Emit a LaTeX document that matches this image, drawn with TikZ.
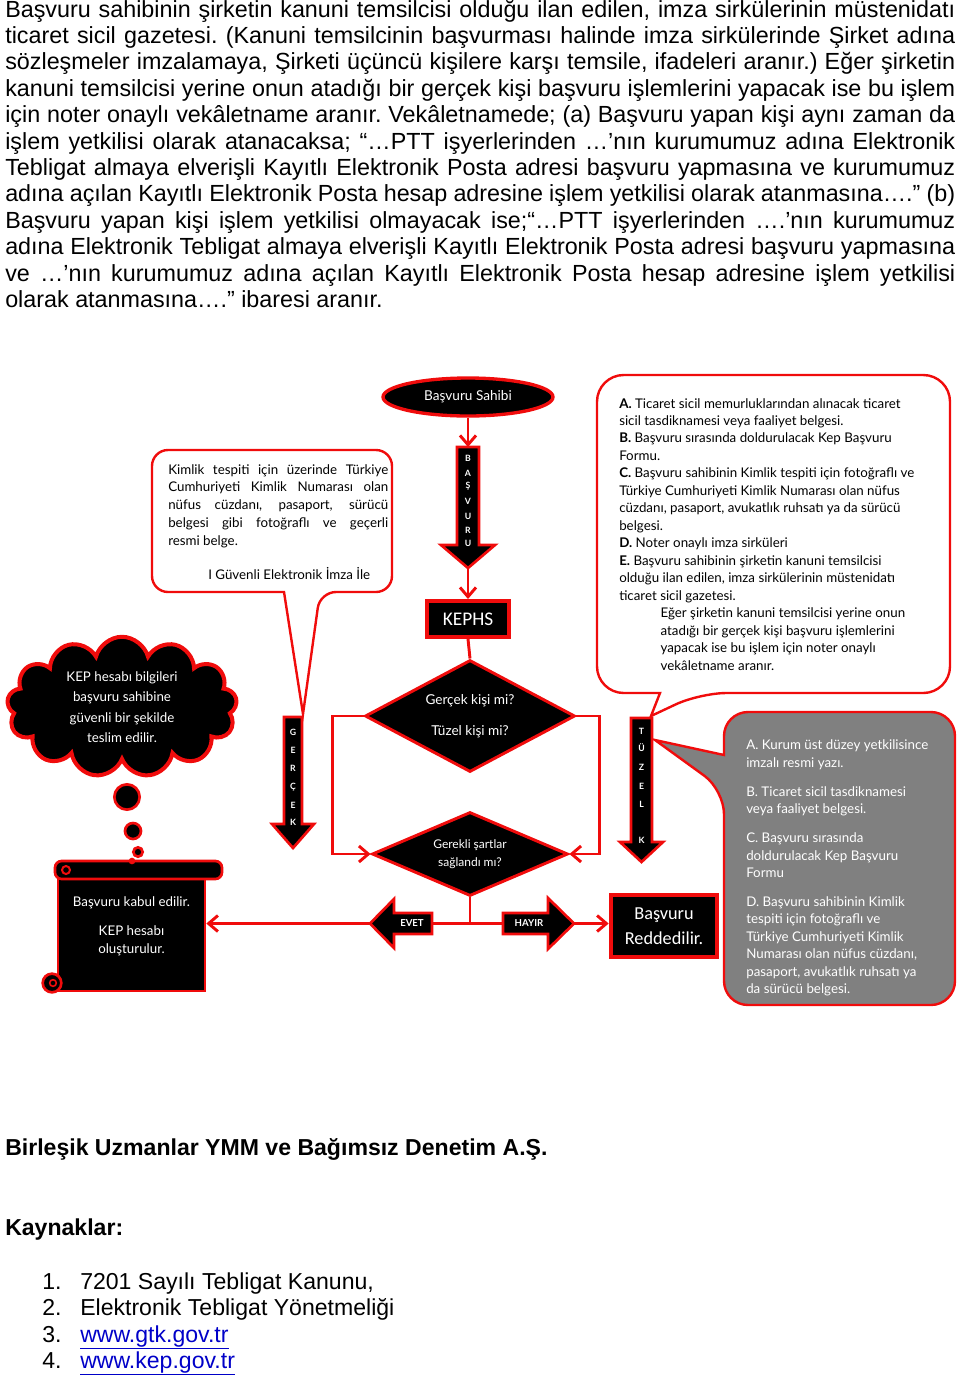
\documentclass[tikz,border=0pt]{standalone}
\usepackage{fontspec}
\setmainfont{Liberation Sans}
\newfontfamily\narrowfont{Liberation Sans}
\newfontfamily\comicfont{Lato}
\newfontfamily\calfont{Carlito}
\usetikzlibrary{arrows.meta,shapes.geometric,shapes.symbols}
\definecolor{kepred}{RGB}{240,12,12}
\definecolor{calloutgray}{RGB}{128,128,128}
\definecolor{linkblue}{RGB}{0,0,200}
\newcommand{\px}{0.75pt}
\tikzset{
  redline/.style={draw=kepred, line width=2.2pt},
  link/.style={redline, -{Straight Barb[length=7pt,width=12pt]}},
  darkbox/.style={fill=black, draw=kepred, text=white, inner sep=0pt},
  blockarrow/.style={fill=black, draw=kepred, line width=2pt, line join=miter},
  arrowletter/.style={text=white, inner sep=0pt, font=\comicfont\bfseries\fontsize{6.5pt}{7pt}\selectfont},
  callout/.style={draw=kepred, line width=1.8pt, fill=white},
  bubble/.style={fill=black, draw=kepred, line width=2pt}
}

\begin{document}
\begin{tikzpicture}[x=0.75pt, y=-0.75pt]
  \useasboundingbox (0,0) rectangle (960,1379);

  % text above the chart
  \node[anchor=base west, inner sep=0pt] (intro) at (5,17) {\parbox[t]{712.5pt}{\narrowfont\fontsize{17.5pt}{19.8pt}\selectfont\frenchspacing\tolerance=10000\hyphenpenalty=10000
    Başvuru sahibinin şirketin kanuni temsilcisi olduğu ilan edilen, imza sirkülerinin müstenidatı\linebreak
    ticaret sicil gazetesi. (Kanuni temsilcinin başvurması halinde imza sirkülerinde Şirket adına\linebreak
    sözleşmeler imzalamaya, Şirketi üçüncü kişilere karşı temsile, ifadeleri aranır.) Eğer şirketin\linebreak
    kanuni temsilcisi yerine onun atadığı bir gerçek kişi başvuru işlemlerini yapacak ise bu işlem\linebreak
    için noter onaylı vekâletname aranır. Vekâletnamede; (a) Başvuru yapan kişi aynı zaman da\linebreak
    işlem yetkilisi olarak atanacaksa; “…PTT işyerlerinden …’nın kurumumuz adına Elektronik\linebreak
    Tebligat almaya elverişli Kayıtlı Elektronik Posta adresi başvuru yapmasına ve kurumumuz\linebreak
    adına açılan Kayıtlı Elektronik Posta hesap adresine işlem yetkilisi olarak atanmasına….” (b)\linebreak
    Başvuru yapan kişi işlem yetkilisi olmayacak ise;“…PTT işyerlerinden ….’nın kurumumuz\linebreak
    adına Elektronik Tebligat almaya elverişli Kayıtlı Elektronik Posta adresi başvuru yapmasına\linebreak
    ve …’nın kurumumuz adına açılan Kayıtlı Elektronik Posta hesap adresine işlem yetkilisi\linebreak
    olarak atanmasına….” ibaresi aranır.}};

  % callouts
  \filldraw[callout] (152,521) [rounded corners=12pt] -- (152,450) -- (392,450) -- (392,592) -- (320,592)
    [sharp corners] -- (303,714) -- (284,592) [rounded corners=12pt] -- (152,592) -- cycle;
  \filldraw[callout] (597,534) [rounded corners=20pt] -- (597,375) -- (950,375) -- (950,693) -- (700,693)
    [sharp corners] -- (651,716) -- (660,693) [rounded corners=20pt] -- (597,693) -- cycle;
  \filldraw[callout, fill=calloutgray] (840,712) [rounded corners=18pt] -- (955,712) -- (955,1005) -- (724,1005) -- (724,790)
    [sharp corners] -- (655,740) -- (724,755) [rounded corners=18pt] -- (724,712) -- cycle;

  \node[anchor=base west, inner sep=0pt] (kimliktext) at (168,474) {\parbox[t]{165pt}{\comicfont\fontsize{10pt}{13.35pt}\selectfont
    Kimlik tespiti için üzerinde Türkiye\linebreak
    Cumhuriyeti Kimlik Numarası olan\linebreak
    nüfus cüzdanı, pasaport, sürücü\linebreak
    belgesi gibi fotoğraflı ve geçerli\linebreak
    resmi belge.\par\vspace{12pt}
    \hspace*{30pt}I Güvenli Elektronik İmza İle}};

  \node[anchor=base west, inner sep=0pt] (reqtext) at (619,408) {\parbox[t]{250pt}{\raggedright\comicfont\fontsize{10pt}{13.1pt}\selectfont
    \textbf{A.} Ticaret sicil memurluklarından alınacak ticaret\\
    sicil tasdiknamesi veya faaliyet belgesi.\\
    \textbf{B.} Başvuru sırasında doldurulacak Kep Başvuru\\
    Formu.\\
    \textbf{C.} Başvuru sahibinin Kimlik tespiti için fotoğraflı ve\\
    Türkiye Cumhuriyeti Kimlik Numarası olan nüfus\\
    cüzdanı, pasaport, avukatlık ruhsatı ya da sürücü\\
    belgesi.\\
    \textbf{D.} Noter onaylı imza sirküleri\\
    \textbf{E.} Başvuru sahibinin şirketin kanuni temsilcisi\\
    olduğu ilan edilen, imza sirkülerinin müstenidatı\\
    ticaret sicil gazetesi.\\
    \hspace*{31pt}Eğer şirketin kanuni temsilcisi yerine onun\\
    \hspace*{31pt}atadığı bir gerçek kişi başvuru işlemlerini\\
    \hspace*{31pt}yapacak ise bu işlem için noter onaylı\\
    \hspace*{31pt}vekâletname aranır.}};

  \node[anchor=base west, inner sep=0pt] (graytext) at (746,740) {\parbox[t]{170pt}{\raggedright\color{white}\comicfont\fontsize{10pt}{13.1pt}\selectfont
    A. Kurum üst düzey yetkilisince\\
    imzalı resmi yazı.\\[8.6pt]
    B. Ticaret sicil tasdiknamesi\\
    veya faaliyet belgesi.\\[8.6pt]
    C. Başvuru sırasında\\
    doldurulacak Kep Başvuru\\
    Formu\\[8.6pt]
    D. Başvuru sahibinin Kimlik\\
    tespiti için fotoğraflı ve\\
    Türkiye Cumhuriyeti Kimlik\\
    Numarası olan nüfus cüzdanı,\\
    pasaport, avukatlık ruhsatı ya\\
    da sürücü belgesi.}};

  % main flow
  \node[ellipse, darkbox, line width=2.5pt, minimum width=170*\px, minimum height=38*\px,
    font=\comicfont\fontsize{10.2pt}{11pt}\selectfont] (applicant) at (468,397) {Başvuru Sahibi};

  \draw[blockarrow] (457,447) -- (479,447) -- (479,545) -- (495,545) -- (468,568) -- (441,545) -- (457,545) -- cycle;
  \coordinate (bvtop) at (468,447);
  \coordinate (bvtip) at (468,568);
  \foreach \ch/\yy [count=\i] in {B/458,A/473,Ş/486,V/501,U/516,R/530,U/543}
    \node[arrowletter] (bv\i) at (468,\yy) {\ch};

  \node[darkbox, line width=3pt, minimum width=82*\px, minimum height=36*\px,
    font=\calfont\fontsize{14.5pt}{16pt}\selectfont] (kephs) at (468,619) {KEPHS};

  \node[diamond, darkbox, shape aspect=1.9, line width=2.2pt, minimum width=210*\px, minimum height=112*\px, align=center,
    font=\comicfont\fontsize{10.2pt}{11pt}\selectfont] (q1) at (470,716) {Gerçek kişi mi?\\[12pt]Tüzel kişi mi?};
  \node[diamond, darkbox, shape aspect=2.3, line width=2.2pt, minimum width=196*\px, minimum height=84*\px, align=center,
    font=\comicfont\fontsize{9pt}{13.5pt}\selectfont] (q2) at (470,854) {Gerekli şartlar\\sağlandı mı?};

  \draw[link] (applicant.south) -- (bvtop);
  \draw[link] (bvtip) -- (kephs.north);
  \draw[redline] (kephs.south) -- (q1.north);
  \draw[link] (q1.west) -- ++(-31,0) |- (q2.west);
  \draw[link] (q1.east) -- ++(23,0) |- (q2.east);

  % side arrows
  \draw[blockarrow] (284,717) -- (302,717) -- (302,824) -- (314,824) -- (293,848) -- (272,824) -- (284,824) -- cycle;
  \foreach \ch/\yy [count=\i] in {G/732,E/750,R/768,Ç/787,E/805,K/822}
    \node[arrowletter] (gk\i) at (293,\yy) {\ch};
  \draw[blockarrow] (631,718) -- (652,718) -- (652,842) -- (663,842) -- (641.5,862) -- (620,842) -- (631,842) -- cycle;
  \foreach \ch/\yy [count=\i] in {T/731,Ü/748,Z/767,E/786,L/804,K/840}
    \node[arrowletter] (tz\i) at (641.5,\yy) {\ch};

  % yes / no
  \draw[blockarrow] (432,913) -- (432,934) -- (394,934) -- (394,948) -- (370,923.5) -- (394,899) -- (394,913) -- cycle;
  \node[arrowletter, font=\comicfont\bfseries\fontsize{7.2pt}{8pt}\selectfont] (evet) at (412,923.5) {EVET};
  \draw[blockarrow] (503,913) -- (548,913) -- (548,898) -- (574,923.5) -- (548,949) -- (548,934) -- (503,934) -- cycle;
  \node[arrowletter, font=\comicfont\bfseries\fontsize{7.2pt}{8pt}\selectfont] (hayir) at (529,923.5) {HAYIR};
  \coordinate (fork) at (470,923.5);
  \coordinate (evetR) at (432,923.5);
  \coordinate (evetTip) at (370,923.5);
  \coordinate (hayirL) at (503,923.5);
  \coordinate (hayirTip) at (574,923.5);
  \draw[redline] (q2.south) -- (fork);
  \draw[redline] (evetR) -- (hayirL);

  \node[darkbox, line width=3.5pt, minimum width=106*\px, minimum height=62*\px, align=center,
    font=\calfont\fontsize{13.7pt}{18.5pt}\selectfont] (reject) at (664,926) {Başvuru\\Reddedilir.};
  \draw[link] (hayirTip) -- (hayirTip -| reject.west);

  % scroll
  \node[darkbox, line width=2pt, minimum width=147*\px, minimum height=116*\px] (accept) at (131.5,933) {};
  \filldraw[bubble, rounded corners=5pt] (55,861) rectangle (222,879);
  \draw[kepred, line width=1.5pt] (66,870) circle (3pt);
  \fill[kepred] (132,861) circle (2.5pt);
  \filldraw[bubble] (52,983) circle (7pt);
  \draw[kepred, line width=1.2pt] (53,983) circle (2.5pt);
  \node[text=white, align=center, font=\comicfont\fontsize{10pt}{13.5pt}\selectfont] (accepttext) at (131.5,926)
    {Başvuru kabul edilir.\\[8pt]KEP hesabı\\oluşturulur.};
  \draw[link] (evetTip) -- (evetTip -| accept.east);

  % cloud
  \node[cloud, cloud puffs=13, cloud ignores aspect, draw=kepred, fill=black, line width=3pt, text=white,
    minimum width=230*\px, minimum height=122*\px, align=center,
    font=\comicfont\fontsize{10pt}{15.2pt}\selectfont] (kepcloud) at (122,707)
    {KEP hesabı bilgileri\\başvuru sahibine\\güvenli bir şekilde\\teslim edilir.};
  \filldraw[bubble] (127,797) circle (9.5pt);
  \filldraw[bubble] (133,831) circle (6pt);
  \filldraw[bubble] (138,852) circle (3.5pt);

  % text below the chart
  \node[anchor=base west, inner sep=0pt, font=\bfseries\fontsize{17.3pt}{20pt}\selectfont] (firm) at (5,1155)
    {Birleşik Uzmanlar YMM ve Bağımsız Denetim A.Ş.};
  \node[anchor=base west, inner sep=0pt, font=\bfseries\fontsize{17.3pt}{20pt}\selectfont] (sources) at (5,1235) {Kaynaklar:};
  \foreach \n/\yy/\t [count=\i] in {1/1289/{7201 Sayılı Tebligat Kanunu,}, 2/1315/{Elektronik Tebligat Yönetmeliği},
      3/1342/{\color{linkblue}\underline{www.gtk.gov.tr}}, 4/1368/{\color{linkblue}\underline{www.kep.gov.tr}}} {
    \node[anchor=base west, inner sep=0pt, font=\fontsize{17.3pt}{20pt}\selectfont] (num\i) at (42,\yy) {\n.};
    \node[anchor=base west, inner sep=0pt, font=\fontsize{17.3pt}{20pt}\selectfont] (src\i) at (80,\yy) {\t};
  }
\end{tikzpicture}
\end{document}
